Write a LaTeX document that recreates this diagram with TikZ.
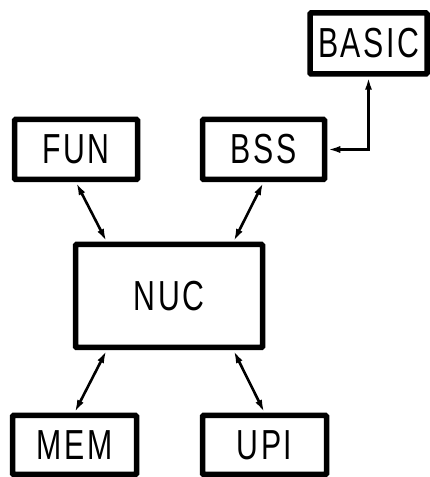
\documentclass[tikz,border=0pt]{standalone}
\usepackage{fontspec}
\newfontfamily\boxfont[FakeStretch=0.72, LetterSpace=6]{Liberation Sans}
\usetikzlibrary{calc}
\usetikzlibrary{arrows.meta}

\begin{document}
\begin{tikzpicture} [x=1pt, y=1pt,
  unit/.style={draw, line width=5.5pt, rounded corners=1pt, inner sep=0, font=\boxfont\fontsize{42}{42}\selectfont},
  link/.style={line width=2.6pt, {Latex[length=13pt,width=7pt]}-{Latex[length=13pt,width=7pt]}}]
\useasboundingbox (0,0) rectangle (430,477);
\node[unit, minimum width=117pt, minimum height=61pt] (basic) at (368.5,433.5) {BASIC};
\node[unit, minimum width=123pt, minimum height=60pt] (fun) at (76,327.5) {FUN};
\node[unit, minimum width=122pt, minimum height=60pt] (bss) at (263.5,327.5) {BSS};
\node[unit, minimum width=187pt, minimum height=103pt] (nuc) at (169,181) {NUC};
\node[unit, minimum width=124pt, minimum height=59pt] (mem) at (74.5,32) {MEM};
\node[unit, minimum width=124pt, minimum height=59pt] (upi) at (264.5,32) {UPI};
\foreach \n/\t in {fun/0.176, bss/0.835}
  \draw[link] (\n.south) -- ($(nuc.north west)!\t!(nuc.north east)$);
\foreach \n/\t in {mem/0.176, upi/0.835}
  \draw[link] (\n.north) -- ($(nuc.south west)!\t!(nuc.south east)$);
\draw[link] (bss.east) -| (basic.south);
\end{tikzpicture}
\end{document}
